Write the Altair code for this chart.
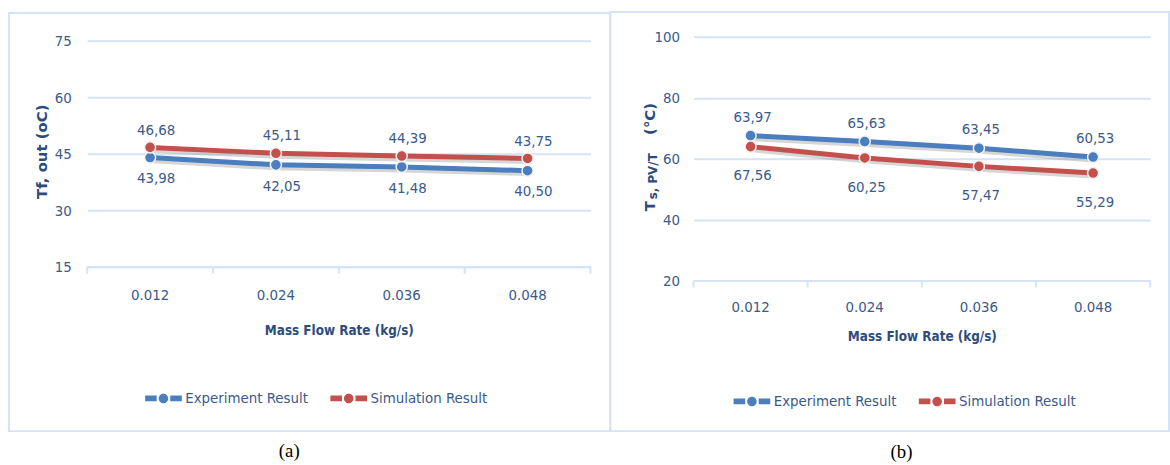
import altair as alt
import pandas as pd

# ---- data -------------------------------------------------------------
flow_rates = ["0.012", "0.024", "0.036", "0.048"]
series_names = ["Experiment Result", "Simulation Result"]

# (a) outlet fluid temperature Tf,out (oC)
a_experiment = [43.98, 42.05, 41.48, 40.50]
a_simulation = [46.68, 45.11, 44.39, 43.75]
a_ticks = [15, 30, 45, 60, 75]

# (b) PV/T surface temperature Ts (°C)
b_experiment = [67.56, 65.63, 63.45, 60.53]
b_simulation = [63.97, 60.25, 57.47, 55.29]
b_experiment_labels = ["63,97", "65,63", "63,45", "60,53"]
b_simulation_labels = ["67,56", "60,25", "57,47", "55,29"]
b_ticks = [20, 40, 60, 80, 100]

# ---- style ------------------------------------------------------------
FONT = "DejaVu Sans Condensed, Lato, sans-serif"
TITLE_FONT = "DejaVu Sans"
SERIF = "Liberation Serif"
BLUE = "#4A7EBF"
RED = "#C4504D"
GRID = "#D6E3F4"
LABEL = "#3A5A8C"
TITLE = "#2C4C7C"
TEXT_SIZE = 15

# line-with-marker legend glyph, drawn in the [-1, 1] symbol box
LEGEND_SHAPE = (
    "M-1,-0.16H-0.37V0.16H-1Z "
    "M0.37,-0.16H1V0.16H0.37Z "
    "M0.26,0A0.26,0.26 0 1 1 -0.26,0A0.26,0.26 0 1 1 0.26,0Z"
)


def comma(values):
    return [f"{v:.2f}".replace(".", ",") for v in values]


def make_frame(exp, sim, exp_labels, sim_labels):
    rows = []
    for i, rate in enumerate(flow_rates):
        rows.append({"rate": rate, "series": series_names[0],
                     "value": exp[i], "label": exp_labels[i]})
        rows.append({"rate": rate, "series": series_names[1],
                     "value": sim[i], "label": sim_labels[i]})
    return pd.DataFrame(rows)


one_row = pd.DataFrame({"k": [0]})


def panel(df, width, height, domain, ticks, upper, label_dx, up_dy, down_dy,
          xlabel_pad, xtitle_pad, ylabel_pad, title_parts, caption, caption_xy,
          box, legend_xy):
    x_axis = alt.Axis(
        title="Mass Flow Rate (kg/s)", labelAngle=0, ticks=False, grid=False,
        domainColor=GRID, domainWidth=2, labelPadding=xlabel_pad,
        titlePadding=xtitle_pad, labelFont=FONT, labelFontSize=TEXT_SIZE,
        labelColor=LABEL, titleFont=FONT, titleFontSize=13.5,
        titleFontWeight="bold", titleColor=TITLE,
    )
    x_scale = alt.Scale(type="band", paddingInner=0, paddingOuter=0)
    x = alt.X("rate:N", sort=flow_rates, scale=x_scale, axis=x_axis)
    y = alt.Y(
        "value:Q",
        scale=alt.Scale(domain=domain, nice=False, zero=False),
        axis=alt.Axis(values=ticks, title=None, domain=False, ticks=False,
                      gridColor=GRID, gridWidth=2, labelPadding=ylabel_pad,
                      labelFont=FONT, labelFontSize=TEXT_SIZE,
                      labelColor=LABEL),
    )
    color_scale = alt.Scale(domain=series_names, range=[BLUE, RED])

    base = alt.Chart(df).encode(x=x, y=y)

    shadow = base.mark_line(color="#8A8A8A", opacity=0.35, strokeWidth=5,
                            yOffset=3).encode(detail="series:N")
    lines = base.mark_line(strokeWidth=5).encode(
        stroke=alt.Stroke("series:N", scale=color_scale, legend=None))
    points = base.mark_point(filled=True, shape="circle", size=125, opacity=1,
                             stroke="#F2F2F2", strokeWidth=1.5).encode(
        fill=alt.Fill(
            "series:N", scale=color_scale,
            legend=alt.Legend(
                title=None, orient="none", legendX=legend_xy[0],
                legendY=legend_xy[1], direction="horizontal",
                symbolType=LEGEND_SHAPE, symbolSize=1370,
                symbolStrokeWidth=0, labelFont=FONT, labelFontSize=TEXT_SIZE,
                labelColor=LABEL, labelOffset=3, columnPadding=22, padding=0,
            ),
        )
    )

    text_style = dict(font=FONT, fontSize=TEXT_SIZE, color=LABEL, dx=label_dx)
    above = base.transform_filter(alt.datum.series == upper).mark_text(
        dy=up_dy, **text_style).encode(text="label:N")
    below = base.transform_filter(alt.datum.series != upper).mark_text(
        dy=down_dy, **text_style).encode(text="label:N")

    # category boundary ticks under the x axis
    tick_df = pd.DataFrame({"rate": flow_rates})
    tick_marks = alt.Chart(tick_df).mark_rule(color=GRID, strokeWidth=2).encode(
        x=alt.X("rate:N", sort=flow_rates, scale=x_scale, axis=x_axis,
                bandPosition=0),
        y=alt.value(height), y2=alt.value(height + 7))
    end_tick = alt.Chart(one_row).mark_rule(color=GRID, strokeWidth=2).encode(
        x=alt.value(width), y=alt.value(height), y2=alt.value(height + 7))

    frame = alt.Chart(one_row).mark_rect(
        fill="white", fillOpacity=0, stroke=GRID, strokeWidth=2).encode(
        x=alt.value(box[0]), x2=alt.value(box[1]),
        y=alt.value(box[2]), y2=alt.value(box[3]))

    title_layers = []
    for text, size, tx, ty, align, baseline in title_parts:
        title_layers.append(
            alt.Chart(one_row).mark_text(
                font=TITLE_FONT, fontSize=size, fontWeight="bold", color=TITLE,
                angle=270, align=align, baseline=baseline,
            ).encode(x=alt.value(tx), y=alt.value(ty), text=alt.value(text))
        )

    cap = alt.Chart(one_row).mark_text(
        font=SERIF, fontSize=19, color="black").encode(
        x=alt.value(caption_xy[0]), y=alt.value(caption_xy[1]),
        text=alt.value(caption))

    return alt.layer(
        frame, tick_marks, end_tick, shadow, lines, points, above, below,
        *title_layers, cap,
    ).properties(width=width, height=height)


df_a = make_frame(a_experiment, a_simulation,
                  comma(a_experiment), comma(a_simulation))
df_b = make_frame(b_experiment, b_simulation,
                  b_experiment_labels, b_simulation_labels)

panel_a = panel(
    df_a, 508, 232, [15, 76.05], a_ticks, series_names[1],
    label_dx=6, up_dy=-18, down_dy=21,
    xlabel_pad=21, xtitle_pad=21, ylabel_pad=16,
    title_parts=[("Tf, out (oC)", 15, -46, 116, "center", "middle")],
    caption="(a)", caption_xy=(204, 418),
    box=(-79, 528, -24, 398), legend_xy=(58, 346),
)

panel_b = panel(
    df_b, 461, 246, [20, 100], b_ticks, series_names[0],
    label_dx=2, up_dy=-19, down_dy=29,
    xlabel_pad=19, xtitle_pad=16, ylabel_pad=14,
    title_parts=[
        ("T", 15, -39, 176, "left", "alphabetic"),
        ("s, PV/T", 12, -37, 164, "left", "alphabetic"),
        ("(°C)", 15, -39, 99, "left", "alphabetic"),
    ],
    caption="(b)", caption_xy=(210, 419),
    box=(-84, 480, -25, 398), legend_xy=(40, 349),
)

chart = (
    alt.hconcat(panel_a, panel_b, spacing=104, bounds="flush")
    .resolve_legend(fill="independent")
    .properties(padding={"left": 8, "top": 9, "right": 0, "bottom": 0},
                background="white")
    .configure(font=FONT)
    .configure_view(stroke=None)
)

chart.save("out.html", embed_options={"renderer": "svg", "actions": False})
